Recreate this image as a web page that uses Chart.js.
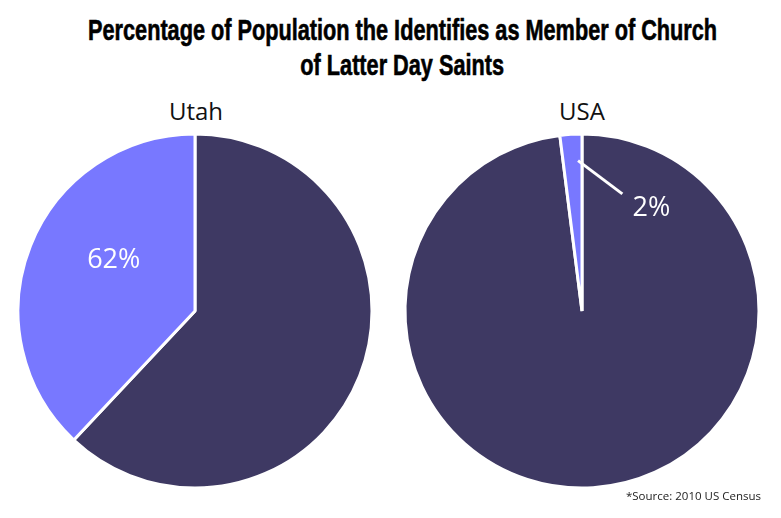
<!DOCTYPE html>
<html>
<head>
<meta charset="utf-8">
<script src="https://cdn.jsdelivr.net/npm/chart.js@4.4.1/dist/chart.umd.min.js"></script>
<style>
    body { margin: 0; background: #fff; }
    .stage { position: relative; width: 781px; height: 518px; overflow: hidden; }
    .title {
        position: absolute; left: -600px; width: 2005px; text-align: center;
        font-family: 'Liberation Sans Narrow', 'Liberation Sans', sans-serif;
        font-weight: bold; font-size: 29px; color: #000; white-space: nowrap;
        -webkit-text-stroke: 0.6px #000;
    }
    .title span { display: inline-block; transform-origin: center; }
    .sub {
        position: absolute; width: 200px; text-align: center;
        font-family: 'Open Sans', sans-serif; font-size: 24px; color: #111;
    }
    .source {
        position: absolute; right: 20px; top: 488px;
        font-family: 'Open Sans', sans-serif; font-size: 11.5px; color: #222;
    }
    canvas { position: absolute; }
</style>
</head>
<body>
<div class="stage">
    <div class="title" style="top:14px"><span id="t1">Percentage of Population the Identifies as Member of Church</span></div>
    <div class="title" style="top:49px"><span id="t2">of Latter Day Saints</span></div>
    <div class="sub" style="left:96px; top:94px">Utah</div>
    <div class="sub" style="left:482px; top:94px">USA</div>
    <canvas id="utahChart" width="370" height="370" style="left:10px; top:126px"></canvas>
    <canvas id="usaChart" width="370" height="370" style="left:397px; top:126px"></canvas>
    <div class="source">*Source: 2010 US Census</div>
</div>
<script>
// Data
const regions = ['Utah', 'USA'];
const sliceLabels = ['Slice A', 'Slice B'];
const utahValues = [62, 38];
const usaValues = [98, 2];
const pieLabels = ['62%', '2%'];

const darkColor = 'rgb(62, 57, 99)';
const lightColor = 'rgb(120, 120, 255)';

// squeeze the title to the condensed width of the original
const fitTitle = () => {
    const t1 = document.getElementById('t1');
    const t2 = document.getElementById('t2');
    const scale = 629 / t1.getBoundingClientRect().width;
    t1.style.transform = 'scaleX(' + scale + ')';
    t2.style.transform = 'scaleX(' + scale + ')';
};
fitTitle();

const toXY = (arc, angleDeg, frac) => {
    const a = angleDeg * Math.PI / 180;
    return {
        x: arc.x + Math.sin(a) * arc.outerRadius * frac,
        y: arc.y - Math.cos(a) * arc.outerRadius * frac
    };
};

// Draws the percentage label (and an optional leader line)
const pieLabelPlugin = {
    id: 'pieLabel',
    afterDatasetsDraw(chart, args, opts) {
        const arc = chart.getDatasetMeta(0).data[0];
        if (!arc) return;
        const ctx = chart.ctx;
        ctx.save();
        if (opts.line) {
            const p1 = toXY(arc, opts.line[0], opts.line[1]);
            const p2 = toXY(arc, opts.line[2], opts.line[3]);
            ctx.strokeStyle = '#fff';
            ctx.lineWidth = 3;
            ctx.beginPath();
            ctx.moveTo(p1.x, p1.y);
            ctx.lineTo(p2.x, p2.y);
            ctx.stroke();
        }
        const p = toXY(arc, opts.angle, opts.dist);
        ctx.fillStyle = '#fff';
        ctx.font = '27px "Open Sans", sans-serif';
        ctx.textAlign = 'center';
        ctx.textBaseline = 'middle';
        ctx.fillText(opts.text, p.x, p.y + 1);
        ctx.restore();
    }
};

const makePie = (id, values, labelOpts) => {
    return new Chart(document.getElementById(id), {
        type: 'pie',
        data: {
            labels: sliceLabels,
            datasets: [{
                data: values,
                backgroundColor: [darkColor, lightColor],
                borderColor: '#fff',
                borderWidth: 3
            }]
        },
        options: {
            responsive: false,
            animation: false,
            radius: 177,
            layout: { padding: 0 },
            plugins: {
                legend: { display: false },
                tooltip: { enabled: false },
                title: { display: false },
                pieLabel: labelOpts
            }
        },
        plugins: [pieLabelPlugin]
    });
};

makePie('utahChart', utahValues, { text: pieLabels[0], angle: 302.6, dist: 0.545 });
makePie('usaChart', usaValues, { text: pieLabels[1], angle: 33.8, dist: 0.705, line: [358.5, 0.85, 19, 0.70] });
</script>
</body>
</html>
